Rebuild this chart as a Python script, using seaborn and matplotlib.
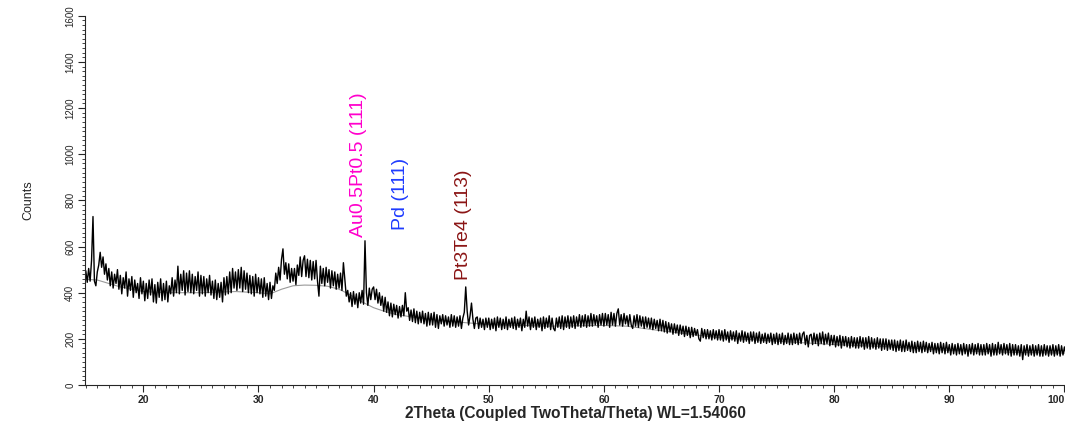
import numpy as np
import pandas as pd
import seaborn as sns
import matplotlib.pyplot as plt
from matplotlib.ticker import MultipleLocator

# measured pattern, 0.125 deg steps starting at 15.0 (each block = 5 deg)
theta_start = 15.0
theta_step = 0.125
counts = [
    495, 445, 505, 450, 540, 730, 450, 430, 490, 520, 575, 510, 555, 480, 525, 455,
    505, 430, 490, 420, 480, 440, 500, 415, 475, 395, 465, 420, 490, 385, 460, 410,
    470, 380, 455, 400, 440, 375, 465, 395,
    450, 365, 440, 375, 455, 390, 460, 360, 435, 355, 445, 380, 460, 365, 440, 370,
    450, 360, 430, 395, 465, 385, 455, 400, 515, 395, 480, 410, 495, 390, 485, 405,
    495, 400, 480, 395, 470, 410, 490, 385,
    475, 395, 470, 385, 460, 400, 475, 390, 450, 375, 455, 370, 440, 380, 445, 360,
    465, 390, 470, 395, 490, 400, 505, 420, 490, 410, 500, 420, 510, 405, 495, 415,
    485, 400, 475, 395, 470, 385, 480, 400,
    465, 395, 460, 380, 465, 385, 440, 370, 445, 375, 430, 410, 485, 440, 510, 455,
    545, 590, 480, 530, 460, 525, 445, 505, 450, 505, 435, 520, 475, 555, 470, 540,
    560, 470, 545, 465, 540, 455, 535, 460,
    540, 450, 385, 515, 440, 505, 430, 510, 445, 500, 420, 495, 430, 490, 415, 480,
    420, 485, 410, 530, 460, 385, 410, 360, 400, 340, 405, 350, 395, 335, 400, 355,
    410, 350, 625, 400, 345, 420, 370, 415,
    425, 370, 415, 355, 400, 345, 385, 320, 380, 315, 360, 300, 355, 295, 350, 305,
    345, 290, 340, 295, 345, 300, 400, 320, 335, 280, 325, 275, 330, 270, 320, 265,
    315, 270, 320, 265, 310, 255, 315, 260,
    310, 260, 315, 250, 305, 245, 300, 265, 305, 255, 300, 260, 295, 250, 305, 255,
    300, 250, 295, 255, 300, 245, 290, 315, 425, 320, 260, 300, 355, 285, 245, 290,
    295, 245, 290, 250, 285, 240, 290, 250,
    290, 240, 285, 245, 290, 235, 295, 250, 290, 240, 285, 245, 295, 240, 285, 250,
    290, 245, 295, 240, 285, 250, 290, 235, 285, 250, 320, 255, 295, 240, 290, 250,
    295, 240, 285, 250, 290, 235, 295, 245,
    290, 250, 300, 240, 290, 245, 235, 290, 250, 295, 245, 300, 240, 295, 250, 300,
    245, 295, 250, 300, 245, 295, 255, 305, 250, 300, 255, 305, 250, 300, 255, 310,
    255, 305, 260, 300, 250, 305, 260, 310,
    255, 310, 260, 305, 250, 315, 260, 310, 255, 310, 330, 260, 305, 255, 310, 265,
    300, 255, 305, 260, 245, 300, 255, 305, 250, 300, 255, 295, 245, 295, 250, 290,
    245, 290, 240, 285, 245, 280, 235, 285,
    235, 280, 230, 275, 225, 270, 230, 265, 220, 265, 225, 260, 215, 260, 220, 255,
    210, 255, 215, 250, 205, 250, 210, 245, 215, 240, 200, 190, 245, 205, 240, 200,
    240, 200, 235, 195, 240, 200, 235, 195,
    240, 195, 235, 190, 240, 195, 230, 185, 235, 195, 230, 190, 235, 180, 225, 190,
    235, 185, 230, 190, 225, 180, 230, 190, 230, 180, 225, 185, 230, 180, 220, 185,
    225, 180, 220, 185, 225, 175, 220, 180,
    225, 175, 220, 180, 225, 175, 215, 180, 225, 175, 220, 175, 225, 180, 220, 175,
    225, 180, 220, 230, 175, 215, 165, 215, 220, 175, 225, 180, 220, 170, 225, 180,
    230, 175, 220, 180, 225, 170, 215, 175,
    215, 165, 210, 170, 215, 160, 210, 170, 210, 165, 205, 160, 210, 165, 205, 160,
    205, 160, 210, 165, 205, 155, 205, 160, 210, 155, 205, 160, 200, 155, 205, 160,
    200, 150, 200, 155, 200, 150, 195, 155,
    195, 150, 195, 145, 190, 150, 195, 145, 190, 145, 195, 150, 185, 145, 190, 140,
    185, 140, 190, 145, 185, 140, 190, 145, 185, 140, 180, 145, 185, 135, 180, 140,
    180, 135, 185, 140, 180, 135, 185, 140,
    175, 130, 180, 135, 175, 130, 180, 135, 175, 130, 180, 135, 175, 125, 175, 135,
    180, 130, 175, 135, 180, 130, 175, 130, 175, 130, 180, 135, 175, 125, 180, 130,
    175, 130, 185, 135, 175, 130, 180, 135,
    175, 130, 180, 125, 175, 130, 175, 130, 170, 125, 175, 110, 170, 130, 175, 125,
    170, 130, 175, 125, 170, 130, 175, 125, 170, 125, 175, 130, 170, 125, 170, 130,
    175, 125, 170, 130, 175, 125, 170, 130,
    165, 135, 160,
]
two_theta = theta_start + theta_step * np.arange(len(counts))

# fitted background (grey curve)
bg_theta = [15, 16, 18, 20, 22, 25, 28, 30, 31, 32, 33, 34, 35, 36, 37, 38, 39, 40, 41, 42,
            44, 46, 48, 50, 55, 60, 62, 65, 70, 75, 80, 85, 90, 95, 100.2]
bg_counts = [458, 455, 425, 405, 400, 400, 405, 400, 395, 415, 430, 433, 432, 428, 415, 390, 360, 335, 318, 305,
             290, 278, 270, 262, 255, 258, 255, 235, 205, 190, 175, 165, 150, 142, 138]

# peak labels
peak_labels = ["Au0.5Pt0.5 (111)", "Pd (111)", "Pt3Te4 (113)"]
peak_x = [38.7, 42.3, 47.8]
peak_y = [642, 672, 454]
peak_colors = ["#ff00cc", "#1f3cff", "#8b1515"]

df = pd.DataFrame({"two_theta": two_theta, "counts": counts})
bg = pd.DataFrame({"two_theta": bg_theta, "counts": bg_counts})

sns.set_style("ticks")
plt.rcParams["font.family"] = ["Liberation Sans", "DejaVu Sans"]

fig = plt.figure(figsize=(10.65, 4.21), dpi=100)
ax = fig.add_axes([0.0798, 0.0855, 0.9202, 0.877])

sns.lineplot(data=bg, x="two_theta", y="counts", color="#999999", lw=0.8, ax=ax)
sns.lineplot(data=df, x="two_theta", y="counts", color="black", lw=1.0, ax=ax)

for lab, x, y, c in zip(peak_labels, peak_x, peak_y, peak_colors):
    ax.text(x, y, lab, rotation=90, ha="center", va="bottom", color=c, fontsize=14,
            family=["Liberation Sans Narrow", "Liberation Sans", "DejaVu Sans"])

ax.set_xlim(14.93, 100.05)
ax.set_ylim(0, 1600)
ax.xaxis.set_major_locator(MultipleLocator(10))
ax.xaxis.set_minor_locator(MultipleLocator(1))
ax.yaxis.set_major_locator(MultipleLocator(200))
ax.yaxis.set_minor_locator(MultipleLocator(20))
ax.tick_params(axis="both", which="major", length=5, width=0.8, direction="out")
ax.tick_params(axis="x", which="major", labelsize=7.5, pad=2)
ax.tick_params(axis="y", which="major", labelsize=7, pad=2)
ax.tick_params(axis="both", which="minor", length=2.5, width=0.6, direction="out")
ax.set_xticks([20, 30, 40, 50, 60, 70, 80, 90, 100])
for t in ax.get_xticklabels():
    t.set_fontweight("bold")
ax.get_xticklabels()[-1].set_ha("right")
for t in ax.get_yticklabels():
    t.set_rotation(90)
    t.set_va("center")
ax.set_xlabel("2Theta (Coupled TwoTheta/Theta) WL=1.54060", fontsize=11.2, fontweight="bold", labelpad=1)
ax.set_ylabel("Counts", fontsize=9, labelpad=22)
sns.despine(ax=ax)
for s in ("left", "bottom"):
    ax.spines[s].set_linewidth(0.8)

fig.savefig("out.png", dpi=100)
plt.close(fig)
